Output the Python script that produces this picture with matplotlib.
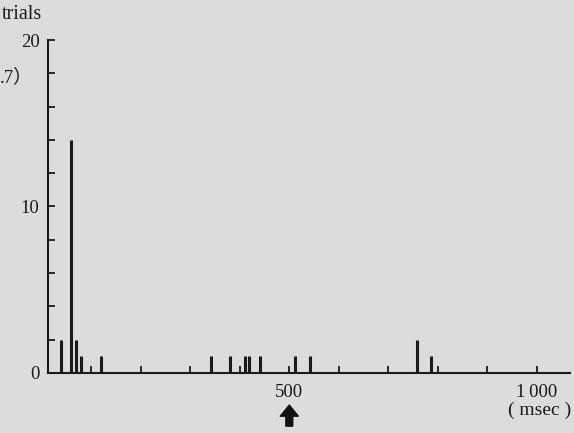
import matplotlib
matplotlib.use("Agg")
import matplotlib.pyplot as plt

# latency (msec) and number of trials
latency = [39, 59, 69, 80, 120, 341, 380, 410, 419, 441, 511, 542, 758, 786]
trials = [2, 14, 2, 1, 1, 1, 1, 1, 1, 1, 1, 1, 2, 1]

xticks = [100, 200, 300, 400, 500, 600, 700, 800, 900, 1000]
xlabels = ["", "", "", "", "500", "", "", "", "", "1\u2009000"]
yticks = [0, 2, 4, 6, 8, 10, 12, 14, 16, 18, 20]
ylabels = ["0", "", "", "", "", "10", "", "", "", "", "20"]

bg = "#dcdcdc"
plt.rcParams["font.family"] = ["Liberation Serif", "DejaVu Serif"]
mixed = ["Liberation Serif", "Noto Sans CJK JP"]

fig = plt.figure(figsize=(5.74, 4.33), dpi=100, facecolor=bg)
ax = fig.add_axes([0.0836, 0.1386, 0.909, 0.769], facecolor=bg)

ax.vlines(latency, 0, trials, colors="#1a1a1a", linewidth=2.2)

ax.set_xlim(13, 1066)
ax.set_ylim(0, 20)
for s in ["top", "right"]:
    ax.spines[s].set_visible(False)
ax.spines["left"].set_linewidth(1.5)
ax.spines["bottom"].set_linewidth(1.5)
ax.spines["left"].set_color("#1a1a1a")
ax.spines["bottom"].set_color("#1a1a1a")

ax.set_xticks(xticks)
ax.set_xticklabels(xlabels)
ax.set_yticks(yticks)
ax.set_yticklabels(ylabels)
ax.tick_params(axis="both", direction="in", length=5, width=1.3,
               colors="#1a1a1a", labelsize=13.5)
ax.tick_params(axis="x", pad=8)
ax.tick_params(axis="y", pad=6)

fig.text(0.003, 0.988, "trials", fontsize=14.5, va="top", ha="left", color="#1a1a1a")
fig.text(0.0, 0.822, ".7\uff09", fontsize=13.5, va="center", ha="left",
         color="#1a1a1a", family=mixed)
fig.text(0.995, 0.052, "( msec )", fontsize=14, va="center", ha="right",
         color="#1a1a1a")

ax.annotate("", xy=(500, -0.088), xytext=(500, -0.168),
            xycoords=("data", "axes fraction"), textcoords=("data", "axes fraction"),
            arrowprops=dict(arrowstyle="simple,head_width=1.3,head_length=0.8,tail_width=0.5",
                            color="#111111"), annotation_clip=False)

fig.savefig("out.png", dpi=100, facecolor=bg)
